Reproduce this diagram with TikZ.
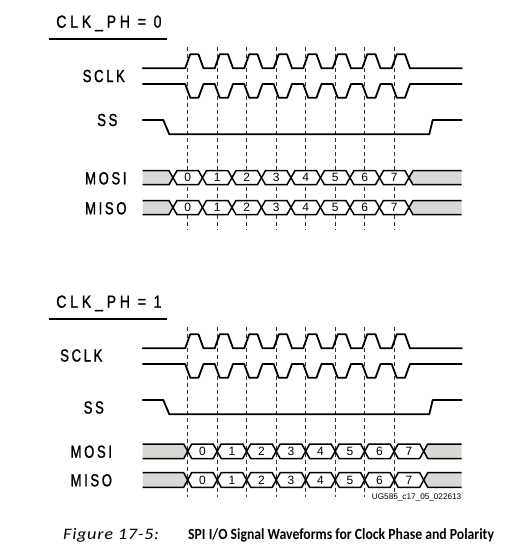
\documentclass[tikz,border=0pt]{standalone}
\usepackage{fontspec}
\setmainfont{Liberation Sans}
\newfontfamily\sigfont[FakeStretch=0.75,LetterSpace=15,FakeBold=1.2]{Liberation Sans}
\newfontfamily\ttlfont[FakeStretch=0.8,LetterSpace=22,FakeBold=1.2]{Liberation Sans}
\newfontfamily\capfont[FakeStretch=0.885]{Carlito}
\newfontfamily\capitfont[FakeStretch=1.15,LetterSpace=4]{Carlito}
\newfontfamily\smallfont{Liberation Sans}
\definecolor{busgrey}{RGB}{216,216,212}
\def\wdz{187.7}
\def\wper{29.5}
\def\bw{4}
\tikzset{
  wave/.style={line width=1.8pt, line join=round, line cap=round},
  guide/.style={dash pattern=on 4pt off 3pt, line width=0.75pt, black!80},
  busline/.style={line width=1.5pt, line join=miter},
  sig/.style={font=\sigfont\fontsize{17.5}{18}\selectfont, inner sep=0pt},
  digit/.style={font=\fontsize{12}{12}\selectfont, inner sep=0pt},
  ttl/.style={font=\ttlfont\fontsize{17.5}{18}\selectfont, inner sep=0pt},
}
\newcommand\clockwave[2]{%
  \draw[wave] (142.7,#1) \foreach \i in {0,...,7}{
     -- ({\wdz+\i*\wper-2.5},#1) -- ({\wdz+\i*\wper+2.5},#2)
     -- ({\wdz+\i*\wper+10.8},#2) -- ({\wdz+\i*\wper+15.8},#1)} -- (461.7,#1);
}
\newcommand\busrow[4]{%
  \pgfmathsetmacro\bmid{(#1+#2)/2}%
  \pgfmathsetmacro\cend{#3+8*\wper}%
  \fill[busgrey] (142.7,#1) -- ({#3-\bw},#1) -- (#3,\bmid) -- ({#3-\bw},#2) -- (142.7,#2) -- cycle;
  \draw[busline] (142.7,#1) -- ({#3-\bw},#1) -- (#3,\bmid) -- ({#3-\bw},#2) -- (142.7,#2);
  \fill[busgrey] (461.7,#1) -- ({\cend+\bw},#1) -- (\cend,\bmid) -- ({\cend+\bw},#2) -- (461.7,#2) -- cycle;
  \draw[busline] (461.7,#1) -- ({\cend+\bw},#1) -- (\cend,\bmid) -- ({\cend+\bw},#2) -- (461.7,#2);
  \foreach \k in {0,...,7}{
    \pgfmathsetmacro\xa{#3+\k*\wper}
    \pgfmathsetmacro\xb{\xa+\wper}
    \filldraw[busline, fill=white] (\xa,\bmid) -- ({\xa+\bw},#1) -- ({\xb-\bw},#1)
       -- (\xb,\bmid) -- ({\xb-\bw},#2) -- ({\xa+\bw},#2) -- cycle;
    \node[digit] (#4\k) at ({(\xa+\xb)/2},\bmid) {\k};
  }
}
\begin{document}
\begin{tikzpicture}[x=1pt,y=-1pt]
\useasboundingbox[fill=white] (0,0) rectangle (511,546);

% ---------- CLK_PH = 0 ----------
\node[ttl] (title0) at (108.9,23.3) {CLK\_PH = 0};
\draw[line width=2.8pt] (49.3,39) -- (166.7,39);
\foreach \i in {0,...,7}
  \draw[guide] ({\wdz+\i*\wper},46.7) -- ({\wdz+\i*\wper},230);
\node[sig] (sclk0) at (103.8,76) {SCLK};
\node[sig] (ss0) at (107.3,120) {SS};
\node[sig] (mosi0) at (105.8,178.3) {MOSI};
\node[sig] (miso0) at (105.8,208.3) {MISO};
\clockwave{68.3}{54.3}
\clockwave{84}{97.7}
\draw[wave] (142.7,120) -- (163.3,120) -- (169.3,134.3) -- (429.3,134.3) -- (432.7,120) -- (461.7,120);
\busrow{170.7}{184.7}{172.95}{mosiA}
\busrow{200.5}{214.5}{172.95}{misoA}

% ---------- CLK_PH = 1 ----------
\node[ttl] (title1) at (108.9,303.3) {CLK\_PH = 1};
\draw[line width=2.8pt] (49.3,319) -- (166.7,319);
\foreach \i in {0,...,7}
  \draw[guide] ({\wdz+\i*\wper},326.7) -- ({\wdz+\i*\wper},497);
\node[sig] (sclk1) at (81.3,355.5) {SCLK};
\node[sig] (ss1) at (93.8,407.5) {SS};
\node[sig] (mosi1) at (91.3,451.7) {MOSI};
\node[sig] (miso1) at (91.3,480.3) {MISO};
\clockwave{348.3}{334.3}
\clockwave{364}{377.7}
\draw[wave] (142.7,400) -- (163.3,400) -- (169.3,414.3) -- (429.3,414.3) -- (432.7,400) -- (461.7,400);
\busrow{444}{458.5}{187.7}{mosiB}
\busrow{472.7}{487.3}{187.7}{misoB}

\node[anchor=base east, inner sep=0pt, font=\smallfont\fontsize{8.2}{9}\selectfont] (ugid) at (461.5,499) {UG585\_c17\_05\_022613};

% ---------- caption ----------
\node[anchor=base west, inner sep=0pt, font=\capitfont\itshape\fontsize{16}{17}\selectfont] (figlbl) at (63,539.5) {Figure 17-5:};
\node[anchor=base west, inner sep=0pt, font=\capfont\bfseries\fontsize{15.5}{17}\selectfont] (figttl) at (188,539.5) {SPI I/O Signal Waveforms for Clock Phase and Polarity};
\end{tikzpicture}
\end{document}
